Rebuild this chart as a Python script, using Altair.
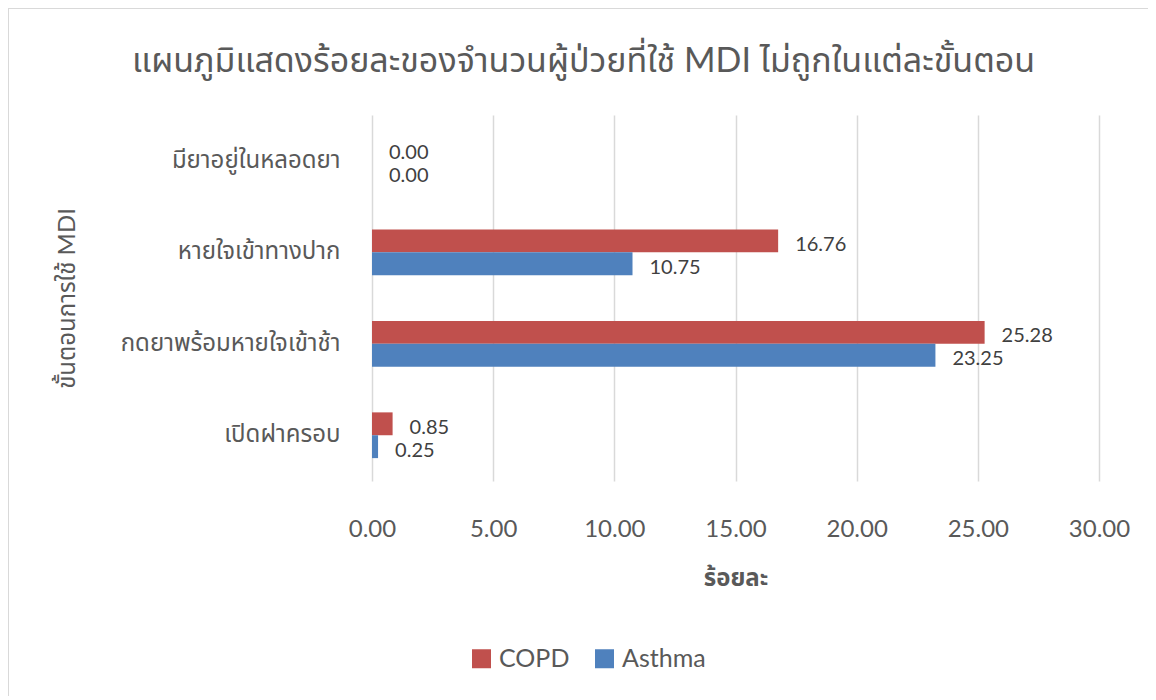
import altair as alt
import pandas as pd

steps = ["มียาอยู่ในหลอดยา", "หายใจเข้าทางปาก", "กดยาพร้อมหายใจเข้าช้า", "เปิดฝาครอบ"]
copd = [0.00, 16.76, 25.28, 0.85]
asthma = [0.00, 10.75, 23.25, 0.25]
groups = ["COPD", "Asthma"]
colors = ["#C0504D", "#4F81BD"]
x_ticks = [0, 5, 10, 15, 20, 25, 30]

rows = []
for s, c, a in zip(steps, copd, asthma):
    rows.append({"step": s, "group": "COPD", "value": c})
    rows.append({"step": s, "group": "Asthma", "value": a})
df = pd.DataFrame(rows)

FONT = "Lato, 'Noto Sans Thai', 'Noto Sans', sans-serif"
TXT = "#595959"

y_enc = alt.Y("step:N", sort=steps,
              scale=alt.Scale(paddingInner=0.5, paddingOuter=0.25),
              axis=alt.Axis(title="ขั้นตอนการใช้ MDI", labelFontSize=24, labelColor=TXT,
                            labelPadding=32, labelLimit=0, ticks=False, domain=False, grid=False,
                            titleFontSize=24, titleColor=TXT, titleFontWeight="normal",
                            titleAngle=270, titleBaseline="middle", titleAlign="center",
                            titleX=-305, titleY=183))
yoff = alt.YOffset("group:N", sort=groups)

bars = alt.Chart(df).mark_bar().encode(
    x=alt.X("value:Q", scale=alt.Scale(domain=[0, 30], nice=False),
            axis=alt.Axis(title="ร้อยละ", values=x_ticks, format=".2f",
                          labelFontSize=24, labelColor=TXT, labelPadding=36, labelFlush=False,
                          ticks=False, domain=False, gridColor="#D9D9D9", gridWidth=1.5,
                          titleFontSize=24, titleColor=TXT, titleFontWeight="bold",
                          titleBaseline="middle", titleY=97)),
    y=y_enc,
    yOffset=yoff,
    color=alt.Color("group:N", sort=groups,
                    scale=alt.Scale(domain=groups, range=colors),
                    legend=alt.Legend(title=None, orient="none", direction="horizontal",
                                      legendX=97, legendY=531, symbolType="square",
                                      symbolSize=361, symbolStrokeWidth=0,
                                      labelFontSize=25, labelColor=TXT, labelOffset=5,
                                      columnPadding=22, padding=0)),
)

labels = alt.Chart(df).mark_text(align="left", baseline="middle", dx=17, dy=4,
                                 fontSize=20, color="#404040").encode(
    x="value:Q",
    y=alt.Y("step:N", sort=steps),
    yOffset=yoff,
    text=alt.Text("value:Q", format=".2f"),
)

frame = alt.Chart(pd.DataFrame({"k": [0]})).mark_rect(
    fill=None, stroke="#D9D9D9", strokeWidth=2).encode(
    x=alt.value(-364), x2=alt.value(1000), y=alt.value(-107), y2=alt.value(700))

chart = alt.layer(frame, bars, labels).properties(
    width=727, height=366,
    title=alt.TitleParams("แผนภูมิแสดงร้อยละของจำนวนผู้ป่วยที่ใช้ MDI ไม่ถูกในแต่ละขั้นตอน",
                          fontSize=34, color=TXT, fontWeight="normal", anchor="middle",
                          frame="group", dx=-152, offset=-72),
    autosize=alt.AutoSizeParams(type="none"),
    padding={"left": 364, "top": 107, "right": 49, "bottom": 215},
).configure(font=FONT).configure_view(stroke=None)

chart.save("out.html", embed_options={"renderer": "svg", "actions": False})
